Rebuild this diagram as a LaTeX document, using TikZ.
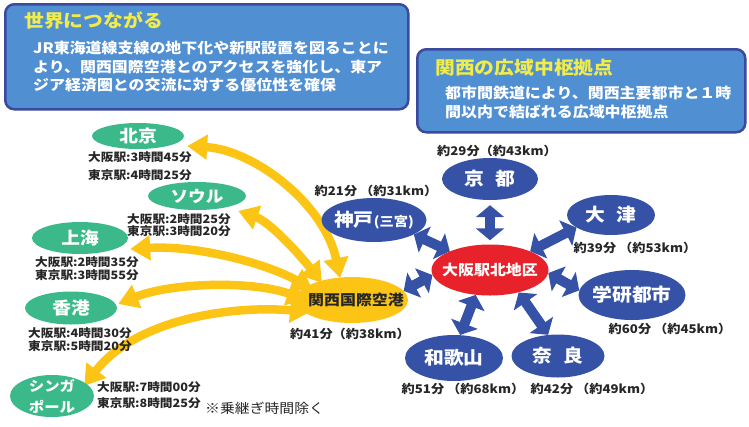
\documentclass[tikz,border=0pt]{standalone}
\usepackage{fontspec}
\setmainfont{Noto Sans CJK JP}[FakeStretch=1.1]
\usetikzlibrary{shapes.geometric,arrows.meta}
\pgfdeclarelayer{bg}
\pgfsetlayers{bg,main}
\definecolor{boxfill}{HTML}{4F8FD2}
\definecolor{boxline}{HTML}{3B4A9E}
\definecolor{ttl}{HTML}{F2EC4A}
\definecolor{grn}{HTML}{3CB98A}
\definecolor{ylw}{HTML}{FCC515}
\definecolor{blu}{HTML}{3552A6}
\definecolor{rd}{HTML}{E8222B}
\definecolor{txt}{HTML}{262626}
\newcommand\fsz[1]{\fontsize{#1}{#1}\selectfont}
\tikzset{
  infobox/.style={draw=boxline, line width=2.5pt, fill=boxfill, rounded corners=9pt, anchor=north west, inner sep=0pt},
  boxtitle/.style={anchor=west, inner sep=0pt, text=ttl, font=\fsz{18}\bfseries},
  boxbody/.style={anchor=west, inner sep=0pt, text=white, font=\fsz{14.5}\bfseries},
  ell/.style={ellipse, inner sep=0pt},
  gell/.style={ell, fill=grn, text=white, font=\fsz{17}\bfseries},
  bell/.style={ell, fill=blu, text=white, font=\fsz{18}\bfseries},
  lbl/.style={anchor=west, inner sep=0pt, text=txt, font=\fsz{11.5}\bfseries},
  blbl/.style={inner sep=0pt, text=txt, font=\fsz{12}\bfseries},
  yarr/.style={draw=ylw, line width=8.5pt, {Triangle[width=24pt,length=20pt]}-{Triangle[width=24pt,length=20pt]}},
  barr/.style={draw=blu, line width=10pt, {Triangle[width=28pt,length=12pt]}-{Triangle[width=28pt,length=12pt]}}
}
\begin{document}
\begin{tikzpicture}[x=1pt,y=-1pt]
\path[use as bounding box] (0,0) rectangle (749,426);

% info boxes
\node[infobox, minimum width=403pt, minimum height=105pt] (box1) at (4,3) {};
\node[boxtitle] (t1) at (24,21) {世界につながる};
\node[boxbody] (b1a) at (33,48) {JR東海道線支線の地下化や新駅設置を図ることに};
\node[boxbody] (b1b) at (33,67) {より、関西国際空港とのアクセスを強化し、東ア};
\node[boxbody] (b1c) at (33,85) {ジア経済圏との交流に対する優位性を確保};

\node[infobox, minimum width=328pt, minimum height=83pt] (box2) at (416,48) {};
\node[boxtitle] (t2) at (435,68) {関西の広域中枢拠点};
\node[boxbody] (b2a) at (445,93) {都市間鉄道により、関西主要都市と１時};
\node[boxbody] (b2b) at (445,112) {間以内で結ばれる広域中枢拠点};

% green destination ellipses
\node[gell, minimum width=92pt, minimum height=26pt] (bj) at (138,136) {\makebox[0pt]{北京}};
\node[gell, minimum width=98pt, minimum height=28pt, font=\fsz{16}\bfseries] (sl) at (197,196) {\makebox[0pt]{ソウル}};
\node[gell, minimum width=96pt, minimum height=32pt] (sh) at (80,238) {\makebox[0pt]{上海}};
\node[gell, minimum width=92pt, minimum height=33pt] (hk) at (71,308) {\makebox[0pt]{香港}};
\node[gell, minimum width=84pt, minimum height=42pt] (sg) at (52,396) {};
\node[inner sep=0pt, align=center, text=white, font=\fontsize{14}{21}\selectfont\bfseries] (sgt) at (sg) {シンガ\\ポール};

% green labels
\node[lbl] (bj1) at (88,157) {大阪駅:3時間45分};
\node[lbl] (bj2) at (88,175) {東京駅:4時間25分};
\node[lbl] (sl1) at (127,219) {大阪駅:2時間25分};
\node[lbl] (sl2) at (127,231) {東京駅:3時間20分};
\node[lbl] (sh1) at (35,262) {大阪駅:2時間35分};
\node[lbl] (sh2) at (35,275) {東京駅:3時間55分};
\node[lbl] (hk1) at (28,333) {大阪駅:4時間30分};
\node[lbl] (hk2) at (28,346) {東京駅:5時間20分};
\node[lbl] (sg1) at (97,387) {大阪駅:7時間00分};
\node[lbl] (sg2) at (97,403) {東京駅:8時間25分};
\node[anchor=west, inner sep=0pt, text=txt, font=\fsz{13.5}] (note) at (205,408) {※乗継ぎ時間除く};

% airport
\node[ell, fill=ylw, minimum width=112pt, minimum height=46pt] (kix) at (352,300) {};
\node[inner sep=0pt, text=txt, font=\fsz{14.5}\bfseries] (kixt) at (356,300) {関西国際空港};
\node[blbl] (kixl) at (350,334) {約41分（約38km）};

% Osaka
\node[ell, fill=rd, text=white, font=\fsz{14.5}\bfseries, minimum width=117pt, minimum height=51pt] (os) at (490,270) {\makebox[0pt]{大阪駅北地区}};

% blue city ellipses
\node[bell, minimum width=96pt, minimum height=42pt] (ky) at (490,179) {\makebox[0pt]{京\hspace{0.6em}都}};
\node[bell, minimum width=105pt, minimum height=44pt] (kb) at (374,220) {\makebox[0pt]{神戸{\fsz{13}(三宮)}}};
\node[bell, minimum width=88pt, minimum height=40pt] (ot) at (611,215) {\makebox[0pt]{大\hspace{0.6em}津}};
\node[bell, minimum width=107pt, minimum height=50pt] (gk) at (632,295) {\makebox[0pt]{学研都市}};
\node[bell, minimum width=98pt, minimum height=46pt] (wk) at (454,358) {\makebox[0pt]{和歌山}};
\node[bell, minimum width=93pt, minimum height=43pt] (nr) at (558,356) {\makebox[0pt]{奈\hspace{0.6em}良}};

% blue labels
\node[blbl] (kyl) at (497,151) {約29分（約43km）};
\node[blbl] (kbl) at (376,191) {約21分 （約31km）};
\node[blbl] (otl) at (635,248) {約39分 （約53km）};
\node[blbl] (gkl) at (670,329) {約60分 （約45km）};
\node[blbl] (wkl) at (463,389) {約51分 （約68km）};
\node[blbl] (nrl) at (592,389) {約42分 （約49km）};

% blue arrows
\draw[barr, shorten <=5pt, shorten >=4pt] (ky.south) -- (os.north);
\draw[barr] (kb.-20) -- (os.155);
\draw[barr] (ot.200) -- (os.25);
\draw[barr] (os.-3) -- (gk.175);
\draw[barr] (os.-38) -- (nr.115);
\draw[barr] (os.-120) -- (wk.75);
\draw[barr] (kix.10) -- (os.185);

% yellow arrows (behind ellipses)
\begin{pgfonlayer}{bg}
\draw[yarr] ([shift={(3,10)}]bj.east) .. controls (255,150) and (325,205) .. ([shift={(-12,-22)}]kix.center);
\draw[yarr] ([shift={(-8,15)}]sl.east) .. controls (270,222) and (300,255) .. ([shift={(-30,-17)}]kix.center);
\draw[yarr] ([shift={(2,11)}]sh.east) .. controls (200,245) and (270,265) .. ([shift={(-39,-10)}]kix.center);
\draw[yarr] ([shift={(1,-4)}]hk.east) .. controls (170,283) and (250,280) .. ([shift={(-45,0)}]kix.center);
\draw[yarr] ([shift={(-10,-10)}]sg.east) .. controls (135,320) and (230,305) .. ([shift={(-42,12)}]kix.center);
\end{pgfonlayer}
\end{tikzpicture}
\end{document}
